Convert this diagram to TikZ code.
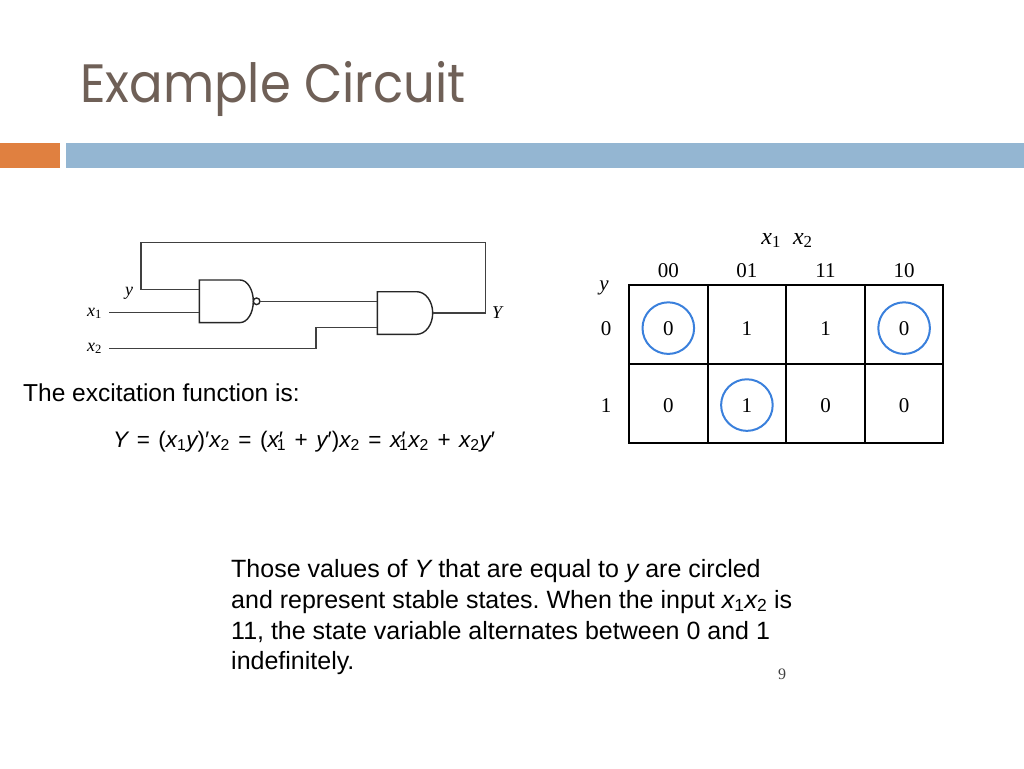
\documentclass[tikz,border=0pt]{standalone}
\usepackage{fontspec}
\setmainfont{Liberation Sans}
\newfontfamily\tms{Liberation Serif}
\newfontfamily\ttl{Poppins}
\usetikzlibrary{positioning}
\definecolor{titlebrown}{RGB}{111,96,87}
\definecolor{barorange}{RGB}{224,128,64}
\definecolor{barblue}{RGB}{148,182,210}
\definecolor{circblue}{RGB}{58,128,220}
\newcommand{\sbs}[2]{{\itshape #1}\textsubscript{#2}}
\newcommand{\eqsp}[1]{\hspace{0.38em}#1\hspace{0.38em}}
\frenchspacing
\begin{document}
\begin{tikzpicture}[x=1pt,y=-1pt,line cap=butt,line join=miter]
				\tikzset{wire/.style={draw=black!75,line width=1.2pt},
					gate/.style={draw=black!85,line width=1.4pt},
					lbl/.style={inner sep=0pt,anchor=base west},
					clbl/.style={inner sep=0pt,anchor=base,font=\tms\fontsize{18}{20}\selectfont},
					kval/.style={inner sep=0pt,anchor=base,font=\tms\fontsize{21}{24}\selectfont},
					stable/.style={draw=circblue,line width=2pt}
				}
				\useasboundingbox (0,0) rectangle (1024,768);
				\node[lbl,font=\ttl\fontsize{54}{60}\selectfont,text=titlebrown] (title) at (80,102) {\scalebox{0.92}[1]{Example Circuit}};
				\fill[barorange] (0,143) rectangle (60,168);
				\fill[barblue] (66,143) rectangle (1024,168);
				% circuit
				\draw[gate] (199.3,280)--(240,280) arc[start angle=-90,end angle=90,x radius=13.3,y radius=21.3]--(199.3,322.6)--cycle;
				\draw[gate] (256.6,301.3) circle (3.3);
				\draw[gate] (377.3,291.7)--(416.7,291.7) arc[start angle=-90,end angle=90,x radius=16,y radius=21.3]--(377.3,334.3)--cycle;
				\coordinate (nandA) at (199.3,289.3); \coordinate (nandB) at (199.3,312.3); \coordinate (nandY) at (259.9,301.3);
				\coordinate (andA) at (377.3,301.3); \coordinate (andB) at (377.3,327.3); \coordinate (andY) at (432.7,313);
				\coordinate (fbR) at (485.7,242.7); \coordinate (fbL) at (141,242.7);
				\coordinate (xone) at (109,312.3); \coordinate (xtwo) at (109,348.3); \coordinate (xbend) at (316,348.3);
				\draw[wire] (nandY)--(andA);
				\draw[wire] (andY)-|(fbR)--(fbL)|-(nandA);
				\draw[wire] (xone)--(nandB);
				\draw[wire] (xtwo)--(xbend)|-(andB);
				\node[clbl] (ylbl) at (129,295) {\itshape y};
				\node[clbl,anchor=base west] (xonelbl) at (87,316) {\sbs{x}{1}};
				\node[clbl,anchor=base west] (xtwolbl) at (87,351) {\sbs{x}{2}};
				\node[clbl,anchor=base west] (Ylbl) at (492,318) {\itshape Y};
				% excitation
				\node[lbl,font=\fontsize{24.5}{28}\selectfont] (exc) at (23,401) {The excitation function is:};
				\node[lbl,font=\fontsize{22.5}{26}\selectfont] (eqn) at (113,447) {{\itshape Y}\eqsp{=}(\sbs{x}{1}{\itshape y})′{\itshape x}\textsubscript{2}\eqsp{=}({\itshape x}′\kern-0.28em\textsubscript{1}\eqsp{+}{\itshape y}′){\itshape x}\textsubscript{2}\eqsp{=}{\itshape x}′\kern-0.28em\textsubscript{1}\sbs{x}{2}\eqsp{+}\sbs{x}{2}{\itshape y}′};
				% K-map
				\draw[line width=2pt] (629,285) rectangle (943.3,443.3);
				\draw[line width=2pt] (629,364.3)--(943.3,364.3);
				\foreach \gx in {707.7,786,865} \draw[line width=2pt] (\gx,285)--(\gx,443.3);
				\node[kval,font=\tms\fontsize{24}{26}\selectfont] (kvar) at (787,244) {\sbs{x}{1}\enspace\sbs{x}{2}};
				\node[kval] (kyvar) at (604,290) {\itshape y};
				\foreach \c [count=\i] in {00,01,11,10} \node[kval] (col\i) at ({629+78.6*(\i-0.5)},277.7) {\c};
				\node[kval] (row0) at (606,335) {0};
				\node[kval] (row1) at (606,412) {1};
				\foreach \v [count=\i] in {0,1,1,0} \node[kval] (a\i) at ({629+78.6*(\i-0.5)},335) {\v};
				\foreach \v [count=\i] in {0,1,0,0} \node[kval] (b\i) at ({629+78.6*(\i-0.5)},412) {\v};
				\draw[stable] (a1.center) circle (25.8);
				\draw[stable] (a4.center) circle (25.8);
				\draw[stable] (b2.center) circle (25.8);
				% note
				\node[lbl,font=\fontsize{25}{30}\selectfont] (noteA) at (231,577) {Those values of {\itshape Y} that are equal to {\itshape y} are circled};
				\node[lbl,font=\fontsize{25}{30}\selectfont] (noteB) at (231,608) {and represent stable states. When the input \sbs{x}{1}\sbs{x}{2} is};
				\node[lbl,font=\fontsize{25}{30}\selectfont] (noteC) at (231,639) {11, the state variable alternates between 0 and 1};
				\node[lbl,font=\fontsize{25}{30}\selectfont] (noteD) at (231,669) {indefinitely.};
				\node[inner sep=0pt,anchor=base,font=\tms\fontsize{16}{18}\selectfont,text=black!75] (pnum) at (782,679) {9};
			\end{tikzpicture}
\end{document}
